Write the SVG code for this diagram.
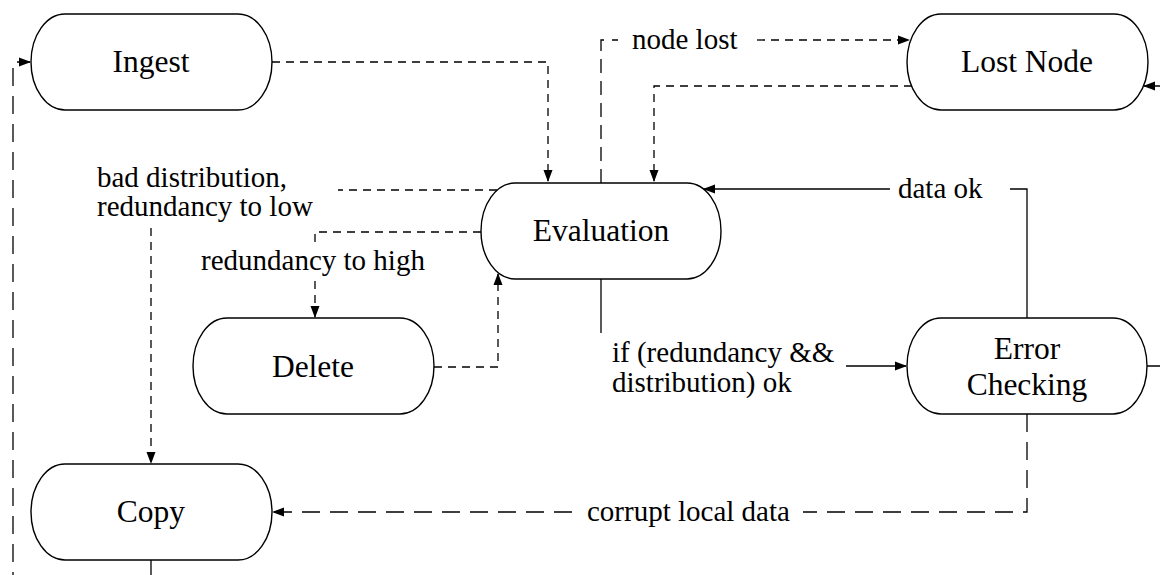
<svg xmlns="http://www.w3.org/2000/svg" width="1160" height="575" viewBox="0 0 1160 575">
<style>
.node{fill:#fff;stroke:#000;stroke-width:1.4}
.nt{font-family:"Liberation Serif","Times New Roman",serif;font-size:31.5px;fill:#000;text-anchor:middle}
.lb{font-family:"Liberation Serif","Times New Roman",serif;font-size:29px;fill:#000}
.c{fill:none;stroke:#000;stroke-width:1.3}
.d1{stroke-dasharray:8 6}
.d2{stroke-dasharray:14 8}
.d3{stroke-dasharray:18 10}
</style>
<defs>
<marker id="ah" markerUnits="userSpaceOnUse" markerWidth="12" markerHeight="10" refX="11" refY="5" orient="auto">
<path d="M0,0.5 L12,5 L0,9.5 Z" fill="#000"/>
</marker>
</defs>
<g id="connectors">
<path class="c d1" d="M272,62 H548 V181" marker-end="url(#ah)"/>
<path class="c d2" d="M601,183 V40 H618"/>
<path class="c d1" d="M757,40 H909" marker-end="url(#ah)"/>
<path class="c d1" d="M912,86 H654 V181" marker-end="url(#ah)"/>
<path class="c" d="M1027,318 V189 H1010"/>
<path class="c" d="M890,189 H704" marker-end="url(#ah)"/>
<path class="c" d="M601,279 V333"/>
<path class="c" d="M846,366 H906" marker-end="url(#ah)"/>
<path class="c" d="M1147,366 H1170 V86 H1144" marker-end="url(#ah)"/>
<path class="c d1" d="M497,190 H338"/>
<path class="c d1" d="M151,228 V463" marker-end="url(#ah)"/>
<path class="c d1" d="M481,232 H315 V247"/>
<path class="c d1" d="M315,281 V317" marker-end="url(#ah)"/>
<path class="c d1" d="M434,367 H498 V274" marker-end="url(#ah)"/>
<path class="c d3" d="M1027,414 V512 H803"/>
<path class="c d3" d="M572,512 H273" marker-end="url(#ah)"/>
<path class="c" d="M151,560 V590"/>
<path class="c d3" d="M13,590 V62 H30" marker-end="url(#ah)"/>
</g>
<g id="labels">
<text class="lb" x="632" y="49">node lost</text>
<text class="lb" x="97" y="187">bad distribution,</text>
<text class="lb" x="97" y="216">redundancy to low</text>
<text class="lb" x="201" y="270">redundancy to high</text>
<text class="lb" x="898" y="198">data ok</text>
<text class="lb" x="612" y="362">if (redundancy &amp;&amp;</text>
<text class="lb" x="612" y="392">distribution) ok</text>
<text class="lb" x="587" y="521">corrupt local data</text>
</g>
<g id="ingest"><rect class="node" x="31" y="14" width="241" height="96" rx="34" ry="48"/><text class="nt" x="151" y="72">Ingest</text></g>
<g id="lost-node"><rect class="node" x="907" y="14" width="241" height="96" rx="34" ry="48"/><text class="nt" x="1027" y="72">Lost Node</text></g>
<g id="evaluation"><rect class="node" x="481" y="183" width="240" height="96" rx="34" ry="48"/><text class="nt" x="601" y="241">Evaluation</text></g>
<g id="delete"><rect class="node" x="193" y="318" width="241" height="96" rx="34" ry="48"/><text class="nt" x="313" y="377">Delete</text></g>
<g id="error-checking"><rect class="node" x="907" y="318" width="240" height="96" rx="34" ry="48"/><text class="nt" x="1027" y="359">Error</text><text class="nt" x="1027" y="395">Checking</text></g>
<g id="copy"><rect class="node" x="31" y="464" width="241" height="96" rx="34" ry="48"/><text class="nt" x="151" y="522">Copy</text></g>
</svg>
